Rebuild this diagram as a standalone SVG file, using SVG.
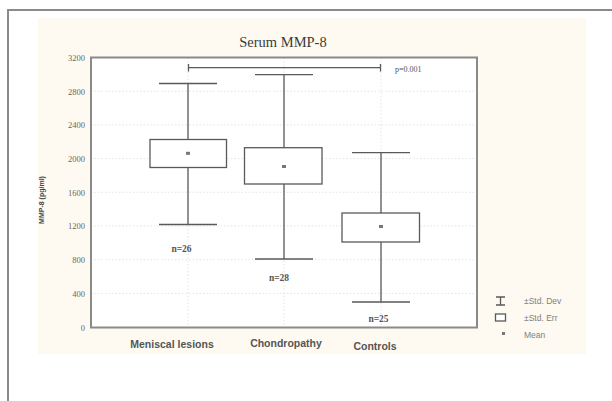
<svg xmlns="http://www.w3.org/2000/svg" width="612" height="401" viewBox="0 0 612 401">
<style>
.frame{fill:none;stroke:#8a8a8a;stroke-width:2}
.grid{stroke:#dcdcdc;stroke-width:0.8;stroke-dasharray:1.5 2;fill:none}
.ln{stroke:#5a5a5a;stroke-width:1.3;fill:none}
.box{fill:#fff;stroke:#5a5a5a;stroke-width:1.3}
.mean{fill:#777}
.tick{font-family:"Liberation Serif",serif;font-size:8.5px;fill:#666;text-anchor:end}
.cat{font-family:"Liberation Sans",Arial,sans-serif;font-size:10.5px;font-weight:bold;fill:#555;text-anchor:middle}
.n{font-family:"Liberation Serif",serif;font-size:9.5px;font-weight:bold;fill:#555;text-anchor:middle}
.leg{font-family:"Liberation Sans",Arial,sans-serif;font-size:8.5px;fill:#808080}
</style>
<rect x="0" y="0" width="612" height="401" fill="#fff"/>
<path class="frame" d="M8 401 V10 H612"/>
<rect x="38" y="18" width="548" height="336" fill="#fefaf1"/>
<text x="283" y="47" font-family="Liberation Serif,serif" font-size="14.5" fill="#3a3a3a" text-anchor="middle">Serum MMP-8</text>
<g id="plot">
<rect x="91" y="57.5" width="386" height="270" fill="#fff"/>
<g class="grid">
<path d="M91 91.2H477M91 124.9H477M91 158.6H477M91 192.3H477M91 226H477M91 259.7H477M91 293.4H477"/>
<path d="M188 57.5V327.5M284 57.5V327.5M381 57.5V327.5"/>
</g>
<rect class="frame" x="91" y="57.5" width="386" height="270" stroke-width="1.5" stroke="#666"/>
</g>
<g id="yaxis">
<text class="tick" x="85" y="61">3200</text>
<text class="tick" x="85" y="94.5">2800</text>
<text class="tick" x="85" y="128">2400</text>
<text class="tick" x="85" y="162">2000</text>
<text class="tick" x="85" y="195.5">1600</text>
<text class="tick" x="85" y="229">1200</text>
<text class="tick" x="85" y="263">800</text>
<text class="tick" x="85" y="296.5">400</text>
<text class="tick" x="85" y="330.5">0</text>
<text x="44" y="200" transform="rotate(-90 44 200)" font-family="Liberation Sans,Arial,sans-serif" font-size="7" font-weight="bold" fill="#444" text-anchor="middle">MMP-8 (pg/ml)</text>
</g>
<g id="connectors">
<path class="ln" d="M188.5 67.7H380.5M188.5 64V71.5M380.5 64V71.5"/>
<path class="ln" d="M188 83.5V224.5M159 83.5H217M159 224.5H217"/>
<path class="ln" d="M284 74.7V259M255 74.7H313M255 259H313"/>
<path class="ln" d="M381 152.7V302M352 152.7H410M352 302H410"/>
</g>
<text x="395" y="72" font-family="Liberation Serif,serif" font-size="8" fill="#555">p=0.001</text>
<g id="meniscal">
<rect class="box" x="150" y="139.5" width="76.5" height="28"/>
<rect class="mean" x="186" y="151.8" width="4" height="3"/>
<text class="n" x="181.5" y="252">n=26</text>
<text class="cat" x="172" y="348">Meniscal lesions</text>
</g>
<g id="chondropathy">
<rect class="box" x="244.5" y="147.7" width="77.5" height="36.3"/>
<rect class="mean" x="282" y="165" width="4" height="3"/>
<text class="n" x="279" y="281">n=28</text>
<text class="cat" x="286" y="347">Chondropathy</text>
</g>
<g id="controls">
<rect class="box" x="342" y="213" width="77.5" height="29"/>
<rect class="mean" x="379" y="225" width="4" height="3"/>
<text class="n" x="378.5" y="322">n=25</text>
<text class="cat" x="375" y="350">Controls</text>
</g>
<g id="legend">
<path class="ln" stroke-width="1" d="M496 297H505M496 305H505M500.5 297V305"/>
<text class="leg" x="524" y="304">±Std. Dev</text>
<rect class="box" stroke-width="1" x="495.5" y="314" width="10" height="7"/>
<text class="leg" x="524" y="321">±Std. Err</text>
<rect class="mean" x="502" y="332" width="3" height="3"/>
<text class="leg" x="524" y="337.5">Mean</text>
</g>
</svg>
